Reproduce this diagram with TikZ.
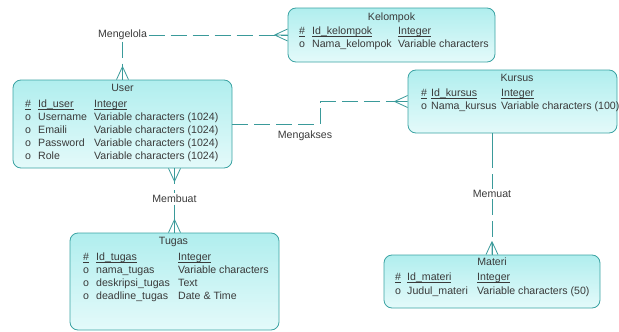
\documentclass[tikz,border=0pt]{standalone}
\usepackage{fontspec}
\setmainfont{Liberation Sans}
\usetikzlibrary{calc}
\definecolor{edgec}{HTML}{3BA3A3}
\definecolor{linec}{HTML}{3A9A9A}
\definecolor{fillA}{HTML}{B0EEEE}
\definecolor{fillB}{HTML}{E4FAFA}
\definecolor{txtc}{HTML}{3A3A3A}
\newcommand\uln[1]{\setbox0\hbox{#1}\rlap{\rule[-2.0pt]{\wd0}{0.5pt}}\box0}
\newcommand\erow[8]{%
  \node[txt] (#1s) at (#3,#2) {#6};
  \node[txt] (#1n) at (#4,#2) {#7};
  \node[txt] (#1t) at (#5,#2) {#8};}
\tikzset{
  ent/.style={draw=edgec, line width=0.8pt, rounded corners=8pt, top color=fillA, bottom color=fillB, inner sep=0pt},
  txt/.style={font=\fontsize{10.6}{12}\selectfont, text=txtc, inner sep=0pt, anchor=mid west},
  ttl/.style={font=\fontsize{10.6}{12}\selectfont, text=txtc, inner sep=0pt, anchor=mid},
  lbl/.style={font=\fontsize{10.6}{12}\selectfont, text=txtc, inner sep=1.5pt},
  rel/.style={draw=linec, line width=0.9pt, dash pattern=on 16pt off 6pt},
  solidrel/.style={draw=linec, line width=0.9pt},
  foot/.style={draw=linec, line width=0.8pt},
  crowL/.pic={\draw[foot] (-13,0) -- (0,-6) (-13,0) -- (0,0) (-13,0) -- (0,6);},
  crowU/.pic={\draw[foot] (0,-13) -- (-6,0) (0,-13) -- (0,0) (0,-13) -- (6,0);},
  crowD/.pic={\draw[foot] (0,13) -- (-6,0) (0,13) -- (0,0) (0,13) -- (6,0);}
}
\begin{document}
\begin{tikzpicture}[x=1pt,y=-1pt]
\useasboundingbox (0,0) rectangle (619,332);
% entities
\node[ent, minimum width=207pt, minimum height=54pt] (kelompok) at (391.5,35) {};
\node[ent, minimum width=209pt, minimum height=63pt] (kursus) at (512.5,101.5) {};
\node[ent, minimum width=219pt, minimum height=88pt] (user) at (122.5,124) {};
\node[ent, minimum width=209pt, minimum height=97pt] (tugas) at (174.5,281.5) {};
\node[ent, minimum width=216pt, minimum height=53pt] (materi) at (492,281.5) {};
% Kelompok
\node[ttl] (kelompokT) at (391.5,18) {Kelompok};
\erow{k1}{32}{299}{312}{398}{\uln{\#}}{\uln{Id\_kelompok}}{\uln{Integer}}
\erow{k2}{45}{299}{312}{398}{o}{Nama\_kelompok}{Variable characters}
% Kursus
\node[ttl] (kursusT) at (517,79) {Kursus};
\erow{s1}{94}{421}{431}{501}{\uln{\#}}{\uln{Id\_kursus}}{\uln{Integer}}
\erow{s2}{107}{421}{431}{501}{o}{Nama\_kursus}{Variable characters (100)}
% User
\node[ttl] (userT) at (122.5,89) {User};
\erow{u1}{105}{25}{38}{94}{\uln{\#}}{\uln{Id\_user}}{\uln{Integer}}
\erow{u2}{118}{25}{38}{94}{o}{Username}{Variable characters (1024)}
\erow{u3}{131}{25}{38}{94}{o}{Emaili}{Variable characters (1024)}
\erow{u4}{144}{25}{38}{94}{o}{Password}{Variable characters (1024)}
\erow{u5}{157}{25}{38}{94}{o}{Role}{Variable characters (1024)}
% Tugas
\node[ttl] (tugasT) at (173.5,242) {Tugas};
\erow{t1}{258}{83}{96}{178}{\uln{\#}}{\uln{Id\_tugas}}{\uln{Integer}}
\erow{t2}{271}{83}{96}{178}{o}{nama\_tugas}{Variable characters}
\erow{t3}{284}{83}{96}{178}{o}{deskripsi\_tugas}{Text}
\erow{t4}{297}{83}{96}{178}{o}{deadline\_tugas}{Date \& Time}
% Materi
\node[ttl] (materiT) at (492,263) {Materi};
\erow{m1}{278}{395}{407}{477}{\uln{\#}}{\uln{Id\_materi}}{\uln{Integer}}
\erow{m2}{292}{395}{407}{477}{o}{Judul\_materi}{Variable characters (50)}
% relationship labels
\node[lbl] (mengelola) at (122.5,35) {Mengelola};
\node[lbl] (mengakses) at (305,136) {Mengakses};
\node[lbl] (membuat) at (174.5,199) {Membuat};
\node[lbl] (memuat) at (492,194) {Memuat};
\coordinate (bend) at (320,124);
\coordinate (solidend) at (492,152);
% connectors
\draw[rel] (mengelola.east) -- (kelompok.west);
\draw[rel] (mengelola.south) -- (user.north);
\draw[rel] (user.east) -- (bend) |- (kursus.west);
\draw[rel] (user.south -| membuat.north) -- (membuat.north);
\draw[rel] (membuat.south) -- (tugas.north);
\draw[solidrel] (kursus.south -| materi.north) -- (solidend);
\draw[rel] (solidend) -- (memuat.north);
\draw[rel] (memuat.south) -- (materi.north);
% crow's feet
\pic at (kelompok.west) {crowL};
\pic at (kursus.west) {crowL};
\pic at (user.north) {crowU};
\pic at (user.south -| membuat.north) {crowD};
\pic at (tugas.north) {crowU};
\pic at (materi.north) {crowU};
\end{tikzpicture}
\end{document}
